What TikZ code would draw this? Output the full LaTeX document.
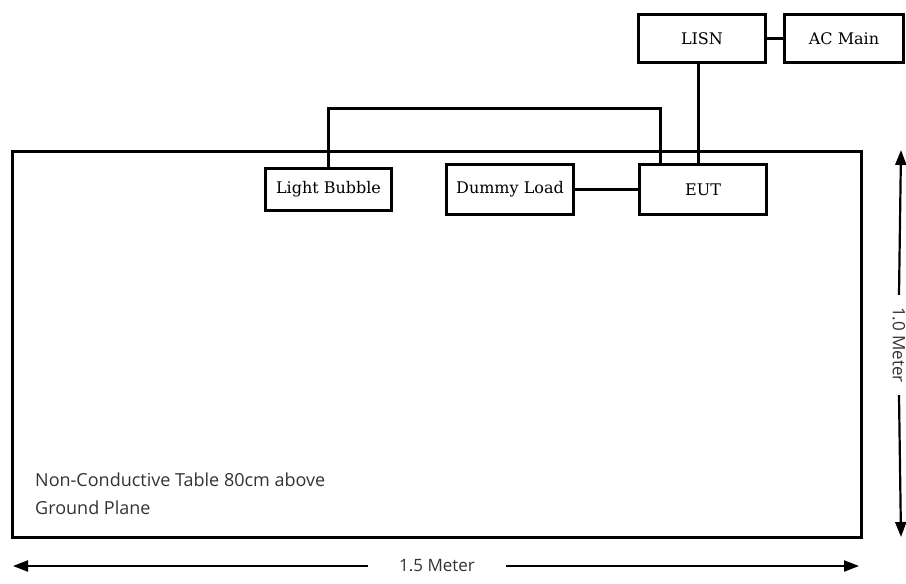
\documentclass[tikz,border=0pt]{standalone}
\usepackage{fontspec}
\setmainfont{DejaVu Serif}
\newfontfamily\labelsans{Open Sans}
\usetikzlibrary{arrows.meta,calc}
\begin{document}
\begin{tikzpicture}[x=1pt,y=-1pt,
  blk/.style={draw=black,line width=3pt,fill=white,inner sep=0pt,
    font=\fontsize{16}{19}\selectfont},
  wire/.style={draw=black,line width=3pt},
  dim/.style={draw=black,line width=2.2pt},
  dimtext/.style={font=\labelsans\fontsize{17}{20}\selectfont,text=black!80,inner sep=0pt},
  tabletext/.style={font=\labelsans\fontsize{18}{21}\selectfont,text=black!80,inner sep=0pt}]
\useasboundingbox (0,0) rectangle (906,584);
% table
\draw[line width=3pt] (12,151) rectangle (861,537);
% boxes
\node[blk,minimum width=127pt,minimum height=48pt] (lisn) at (702,38.5) {LISN};
\node[blk,minimum width=119pt,minimum height=48pt] (ac) at (844,38.5) {AC Main};
\node[blk,minimum width=126pt,minimum height=42pt] (lb) at (328.5,189.5) {Light Bubble};
\node[blk,minimum width=127pt,minimum height=50pt] (dl) at (510,189.5) {Dummy Load};
\node[blk,minimum width=127pt,minimum height=50pt] (eut) at (703,189.5) {EUT};
% connectors
\draw[wire] (lisn.south -| 698,0) -- (698,0 |- eut.north);
\draw[wire] (lisn.east) -- (ac.west);
\draw[wire] (lb.north) |- (660,108) -- (660,0 |- eut.north);
\draw[wire] (dl.east) -- (eut.west);
% table label
\node[tabletext,anchor=west] (t1) at (35,480) {Non-Conductive Table 80cm above};
\node[tabletext,anchor=west] (t2) at (35,508) {Ground Plane};
% horizontal dimension
\coordinate (hl) at (13,566);
\coordinate (hr) at (859,566);
\node[dimtext,inner xsep=31pt] (hd) at (437,566) {1.5 Meter};
\draw[dim,{Triangle[length=15pt,width=11pt]}-] (hl) -- (hd.west);
\draw[dim,-{Triangle[length=15pt,width=11pt]}] (hd.east) -- (hr);
% vertical dimension
\coordinate (vt) at (901,150);
\coordinate (vb) at (901,537);
\node[dimtext,rotate=-90,inner xsep=12pt] (vd) at (899,345) {1.0 Meter};
\draw[dim,{Triangle[length=15pt,width=11pt]}-] (vt) -- (vd.west);
\draw[dim,-{Triangle[length=15pt,width=11pt]}] (vd.east) -- (vb);
\end{tikzpicture}
\end{document}
